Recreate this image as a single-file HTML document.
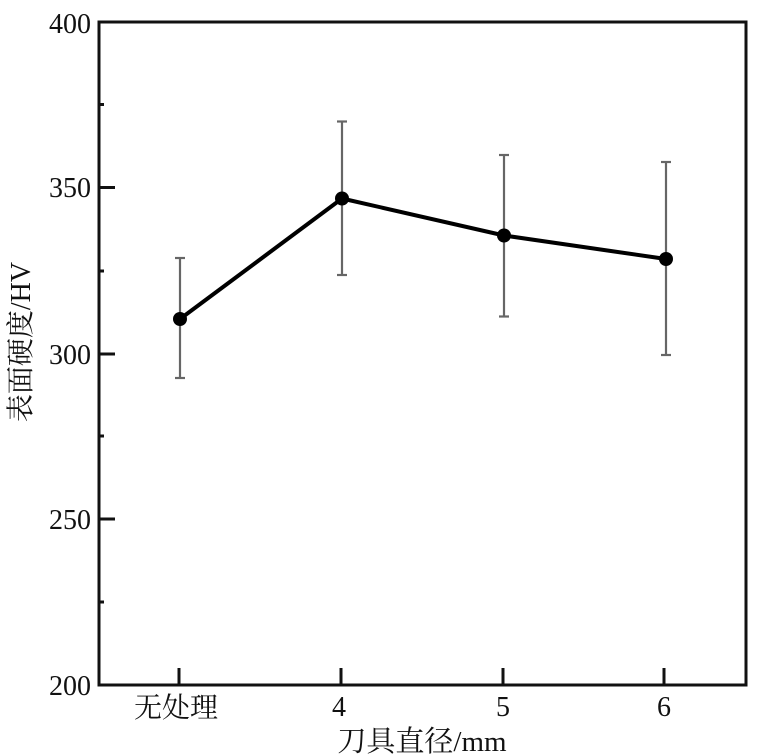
<!DOCTYPE html>
<html><head><meta charset="utf-8"><style>
html,body{margin:0;padding:0;background:#fff;}
svg{display:block;}
text{font-family:"Liberation Serif","Noto Serif CJK SC","Noto Sans CJK SC",serif;fill:#111;}
</style></head><body>
<svg width="768" height="756" viewBox="0 0 768 756" xmlns="http://www.w3.org/2000/svg">
<rect x="0" y="0" width="768" height="756" fill="#fff"/>
<!-- frame -->
<rect x="99" y="22" width="647" height="663" fill="none" stroke="#111" stroke-width="3"/>
<!-- y major ticks -->
<g stroke="#111" stroke-width="3">
<line x1="99" y1="187.5" x2="115" y2="187.5"/>
<line x1="99" y1="354" x2="115" y2="354"/>
<line x1="99" y1="519" x2="115" y2="519"/>
</g>
<!-- y minor ticks -->
<g stroke="#111" stroke-width="3">
<line x1="99" y1="104.5" x2="104" y2="104.5"/>
<line x1="99" y1="271" x2="104" y2="271"/>
<line x1="99" y1="436" x2="104" y2="436"/>
<line x1="99" y1="602" x2="104" y2="602"/>
</g>
<!-- x ticks -->
<g stroke="#111" stroke-width="3">
<line x1="179" y1="685" x2="179" y2="668"/>
<line x1="341" y1="685" x2="341" y2="668"/>
<line x1="503" y1="685" x2="503" y2="668"/>
<line x1="664" y1="685" x2="664" y2="668"/>
</g>
<!-- y tick labels -->
<g font-size="28" text-anchor="end">
<text x="91" y="33">400</text>
<text x="91" y="197">350</text>
<text x="91" y="364">300</text>
<text x="91" y="529">250</text>
<text x="91" y="695">200</text>
</g>
<!-- x tick labels -->
<g font-size="28" text-anchor="middle">
<text x="176" y="717">无处理</text>
<text x="339" y="716">4</text>
<text x="503" y="716">5</text>
<text x="664" y="716">6</text>
</g>
<!-- axis titles -->
<text x="422" y="751" font-size="29" text-anchor="middle">刀具直径/mm</text>
<text transform="translate(30,342) rotate(-90)" font-size="28" text-anchor="middle">表面硬度/HV</text>
<!-- error bars -->
<g stroke="#666" stroke-width="2.2">
<line x1="180" y1="258" x2="180" y2="378"/>
<line x1="175" y1="258" x2="185" y2="258"/>
<line x1="175" y1="378" x2="185" y2="378"/>
<line x1="342" y1="121.5" x2="342" y2="275"/>
<line x1="337" y1="121.5" x2="347" y2="121.5"/>
<line x1="337" y1="275" x2="347" y2="275"/>
<line x1="504" y1="155" x2="504" y2="316.5"/>
<line x1="499" y1="155" x2="509" y2="155"/>
<line x1="499" y1="316.5" x2="509" y2="316.5"/>
<line x1="666" y1="162" x2="666" y2="355"/>
<line x1="661" y1="162" x2="671" y2="162"/>
<line x1="661" y1="355" x2="671" y2="355"/>
</g>
<!-- series line -->
<polyline points="180,319 342,198.5 504,235.5 666,259" fill="none" stroke="#000" stroke-width="4" stroke-linejoin="round"/>
<g fill="#000">
<circle cx="180" cy="319" r="7"/>
<circle cx="342" cy="198.5" r="7"/>
<circle cx="504" cy="235.5" r="7"/>
<circle cx="666" cy="259" r="7"/>
</g>
</svg>
</body></html>
